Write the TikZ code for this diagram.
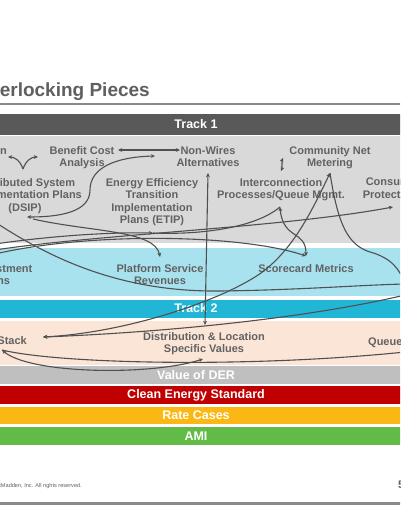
\documentclass[tikz,border=0pt]{standalone}
\usepackage{fontspec}
\setmainfont{Liberation Sans}
\usetikzlibrary{arrows.meta}
\definecolor{titlegray}{HTML}{5F5F5F}
\definecolor{rulegray}{HTML}{8A8A8A}
\definecolor{trackone}{HTML}{595959}
\definecolor{panelgray}{HTML}{D9D9D9}
\definecolor{panelcyan}{HTML}{A7E2EE}
\definecolor{tracktwo}{HTML}{22B6D6}
\definecolor{panelpeach}{HTML}{FBE5D6}
\definecolor{dergray}{HTML}{BFBFBF}
\definecolor{cesred}{HTML}{C00000}
\definecolor{rateorange}{HTML}{FBB814}
\definecolor{amigreen}{HTML}{62BB47}
\definecolor{lblgray}{HTML}{626262}
\definecolor{conngray}{HTML}{505050}
\tikzset{
  lbl/.style={font=\fontsize{11}{12.5}\selectfont\bfseries, text=lblgray, align=center, inner sep=0pt, anchor=north},
  barlbl/.style={font=\fontsize{12.5}{14}\selectfont\bfseries, text=white, inner sep=0pt},
  band/.style={draw=none},
  conn/.style={draw=conngray, line width=1.1pt},
  arr/.style={-{Stealth[length=4.2pt,width=3.8pt]}},
  arrboth/.style={{Stealth[length=4.2pt,width=3.8pt]}-{Stealth[length=4.2pt,width=3.8pt]}}
}
\begin{document}
\begin{tikzpicture}[x=1pt,y=-1pt]
\useasboundingbox (0,0) rectangle (400,516);
\clip (0,0) rectangle (400,516);
\fill[white] (0,0) rectangle (400,516);
% title
\node[anchor=base east, inner sep=0pt, font=\fontsize{19}{22}\selectfont\bfseries, text=titlegray] (title) at (150,97) {Interlocking Pieces};
\fill[rulegray] (-5,103) rectangle (405,105.5);
% bands
\fill[band, trackone] (-5,114.5) rectangle (405,134.5);
\node[barlbl] (t1) at (196,124.5) {Track 1};
\fill[band, panelgray] (-5,136) rectangle (405,243);
\fill[band, panelcyan] (-5,248) rectangle (405,296);
\fill[band, tracktwo] (-5,299.5) rectangle (405,317.5);
\node[barlbl] (t2) at (196,308.5) {Track 2};
\fill[band, panelpeach] (-5,321) rectangle (405,365);
\fill[band, dergray] (-5,366) rectangle (405,384);
\node[barlbl] (der) at (196,375) {Value of DER};
\fill[band, cesred] (-5,386) rectangle (405,403.5);
\node[barlbl] (ces) at (196,394.8) {Clean Energy Standard};
\fill[band, rateorange] (-5,406.5) rectangle (405,424);
\node[barlbl] (rc) at (196,415.2) {Rate Cases};
\fill[band, amigreen] (-5,427) rectangle (405,445);
\node[barlbl] (ami) at (196,436) {AMI};
% footer
\node[anchor=base east, inner sep=0pt, font=\fontsize{5.6}{6.5}\selectfont, text=lblgray] (copy) at (82,487) {\textcopyright{} 2017 ScottMadden, Inc. All rights reserved.};
\node[anchor=base west, inner sep=0pt, font=\fontsize{11}{12}\selectfont\bfseries, text=lblgray] (pg) at (398,488) {5};
\fill[rulegray] (-5,502) rectangle (405,504.5);
% labels
\node[anchor=base east, inner sep=0pt, font=\fontsize{11}{12.5}\selectfont\bfseries, text=lblgray] (rev) at (7,154) {Reforming the Energy Vision};
\node[lbl] (bca) at (82,146) {Benefit Cost\\Analysis};
\node[lbl] (nwa) at (208,146) {Non-Wires\\Alternatives};
\node[lbl] (cnm) at (330,146) {Community Net\\Metering};
\node[lbl] (dsip) at (25,178) {Distributed System\\Implementation Plans\\(DSIP)};
\node[lbl] (etip) at (152,178) {Energy Efficiency\\Transition\\Implementation\\Plans (ETIP)};
\node[lbl] (icq) at (281,178) {Interconnection\\Processes/Queue Mgmt.};
\node[lbl] (cp) at (393,178) {Consumer\\Protections};
\node[lbl] (eam) at (-23,264) {Earnings Adjustment\\Mechanisms};
\node[lbl] (psr) at (160,264) {Platform Service\\Revenues};
\node[lbl] (sm) at (306,264) {Scorecard Metrics};
\node[lbl] (dlsv) at (204,332) {Distribution \& Location\\Specific Values};
\node[anchor=base east, inner sep=0pt, font=\fontsize{11}{12.5}\selectfont\bfseries, text=lblgray] (vs) at (27,344) {Value Stack};
\node[anchor=base west, inner sep=0pt, font=\fontsize{11}{12.5}\selectfont\bfseries, text=lblgray] (qm) at (368,345) {Queue Management};
% connector points
\coordinate (yj) at (23,169);
\coordinate (yl) at (8,157);
\coordinate (yr) at (38,157);
\coordinate (bcaR) at (118,150);
\coordinate (nwaL) at (180,150);
\coordinate (dsipA) at (27,217);
\coordinate (nwaB) at (155,156);
\coordinate (cnmT) at (283,158);
\coordinate (cnmB) at (281,171);
\coordinate (nwaD) at (208,173);
\coordinate (dlsvT) at (205,325);
\coordinate (cnmA) at (330,173);
\coordinate (vsA) at (43,337);
\coordinate (offR1) at (405,284);
\coordinate (icqA) at (280,207);
\coordinate (smA) at (306,256);
\coordinate (etipA) at (153,233);
\coordinate (offL1) at (-5,244);
\coordinate (offL2) at (-5,250);
\coordinate (offL3) at (-5,254);
\coordinate (offL4) at (-5,222);
\coordinate (cpA) at (393,207);
\coordinate (dsipB) at (33,219);
\coordinate (psrA) at (160,257);
\coordinate (offR2) at (405,284);
\coordinate (offR3) at (405,295);
\coordinate (vsB) at (2,350);
\coordinate (dlsvB) at (203,359);
\coordinate (offR4) at (405,352);
% connectors
\draw[conn, arr] (yj) .. controls (20,160) and (14,157) .. (yl);
\draw[conn, arr] (yj) .. controls (26,160) and (32,157) .. (yr);
\draw[conn, arrboth] (bcaR) -- (nwaL);
\draw[conn, arrboth] (nwaB) .. controls (115,157) and (90,168) .. (90,190) .. controls (90,212) and (60,217) .. (dsipA);
\draw[conn, arrboth] (cnmT) .. controls (281,163) and (283,166) .. (cnmB);
\draw[conn, arrboth] (nwaD) -- (dlsvT);
\draw[conn, arrboth] (cnmA) .. controls (310,215) and (290,255) .. (255,277) .. controls (210,305) and (120,333) .. (vsA);
\draw[conn] (cnmA) .. controls (338,225) and (348,245) .. (370,252) .. controls (392,258) and (400,270) .. (offR1);
\draw[conn, arrboth] (icqA) .. controls (283,240) and (306,230) .. (smA);
\draw[conn] (etipA) .. controls (200,235) and (255,228) .. (icqA);
\draw[conn, arr] (offL1) .. controls (50,236) and (110,232) .. (etipA);
\draw[conn, arr] (offL2) .. controls (100,234) and (280,228) .. (cpA);
\draw[conn, arr] (offL3) .. controls (90,232) and (240,234) .. (smA);
\draw[conn, arr] (dsipB) .. controls (90,232) and (155,230) .. (psrA);
\draw[conn] (offL4) .. controls (60,265) and (130,292) .. (220,291) .. controls (300,290) and (360,285) .. (offR2);
\draw[conn, arr] (offR3) .. controls (300,320) and (150,333) .. (vsA);
\draw[conn, arrboth] (vsB) .. controls (30,374) and (150,376) .. (dlsvB);
\draw[conn] (vsB) .. controls (60,364) and (250,368) .. (offR4);
\end{tikzpicture}
\end{document}
